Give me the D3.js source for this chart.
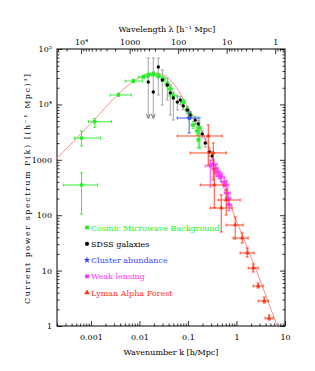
<!DOCTYPE html>
<html><head><meta charset="utf-8">
<script src="https://cdn.jsdelivr.net/npm/d3@7"></script>
<style>
body{margin:0;background:#fff;}
svg{display:block;font-family:"DejaVu Serif",serif;}
</style></head><body>
<svg id="c" width="315" height="371"></svg>
<script>
// ---------- data ----------
const xTickValues = [0.001, 0.01, 0.1, 1, 10];
const xTickLabels = ["0.001", "0.01", "0.1", "1", "10"];
const yTickValues = [1, 10, 100, 1000, 1e4, 1e5];
const yTickLabels = ["1", "10", "100", "1000", "10\u2074", "10\u2075"];
const lamTickValues = [1e4, 1000, 100, 10, 1];
const lamTickLabels = ["10\u2074", "1000", "100", "10", "1"];

// theory curve
const curveK = [0.0002, 0.000977, 0.00405, 0.00822, 0.0132, 0.0212, 0.0341, 0.0548, 0.0968, 0.179, 0.288, 0.462, 0.743, 1.19, 2.54, 6.88];
const curveP = [1070, 4430, 16700, 27600, 33900, 36900, 32600, 21500, 9360, 3750, 1500, 469, 153, 54.1, 10.3, 1.0];

// Cosmic Microwave Background
const cmbK   = [0.00064, 0.00064, 0.0012, 0.0037, 0.0075, 0.012, 0.0152, 0.0193, 0.0245, 0.031, 0.0375, 0.0432, 0.0499, 0.080, 0.0968, 0.111, 0.128, 0.155, 0.175, 0.163];
const cmbP   = [351, 2475, 4870, 14800, 26400, 31200, 33900, 35400, 32600, 28700, 23300, 19000, 14200, 11000, 7920, 6170, 4250, 3310, 3750, 2300];
const cmbKLo = [0.00027, 0.00046, 0.00089, 0.0025, 0.0051, 0.0095, 0.013, 0.017, 0.022, 0.028, 0.034, 0.039, 0.038, 0.072, 0.088, 0.10, 0.117, 0.142, 0.165, 0.155];
const cmbKHi = [0.00136, 0.00157, 0.00264, 0.0068, 0.0115, 0.015, 0.018, 0.022, 0.027, 0.034, 0.041, 0.048, 0.060, 0.088, 0.106, 0.122, 0.14, 0.168, 0.186, 0.172];
const cmbPLo = [105, 1780, 3860, 14000, 24500, 29000, 31500, 32500, 30000, 26000, 21000, 17000, 12500, 9800, 7000, 5400, 3700, 2800, 1620, 1640];
const cmbPHi = [578, 3300, 5520, 16000, 28400, 33500, 36500, 38500, 35500, 31500, 26000, 21500, 16000, 12400, 9000, 7000, 4900, 3900, 5860, 3000];

// SDSS galaxies
const sdssK   = [0.0152, 0.0193, 0.0245, 0.0296, 0.0375, 0.0432, 0.0499, 0.0603, 0.0695, 0.080, 0.0968, 0.111, 0.141, 0.163, 0.197, 0.227, 0.274, 0.316];
const sdssP   = [25400, 16700, 47300, 27600, 22400, 16100, 13100, 11000, 12000, 9360, 7920, 6440, 5230, 4430, 2920, 2010, 1380, 1170];
const sdssPLo = [5680, 5680, 14800, 9760, 12000, 6440, 5230, 7920, 10000, 8000, 6800, 5600, 4500, 3800, 2500, 1700, 1150, 980];
const sdssPHi = [68800, 68800, 68800, 41900, 30000, 22400, 16700, 14200, 14000, 11000, 9200, 7400, 6100, 5100, 3400, 2400, 1650, 1400];
const sdssUpperLimit = [true, true, false, false, false, false, false, false, false, false, false, false, false, false, false, false, false, false];

// Cluster abundance
const clusterK = [0.106], clusterKLo = [0.060], clusterKHi = [0.163];
const clusterP = [5680], clusterPLo = [3050], clusterPHi = [7290];

// Weak lensing
const wlK   = [0.288, 0.332, 0.365, 0.401, 0.441, 0.485, 0.558, 0.614, 0.644, 0.675, 0.708];
const wlKLo = [0.227, 0.288, 0.315, 0.345, 0.38, 0.42, 0.48, 0.53, 0.56, 0.59, 0.62];
const wlKHi = [0.365, 0.401, 0.42, 0.46, 0.51, 0.56, 0.64, 0.70, 0.74, 0.77, 0.80];
const wlP   = [773, 839, 682, 603, 532, 490, 397, 351, 252, 204, 153];
const wlPLo = [323, 700, 570, 500, 450, 410, 330, 290, 200, 160, 120];
const wlPHi = [991, 1000, 800, 720, 630, 580, 470, 420, 310, 250, 190];

// Lyman Alpha Forest
const lyaK   = [0.262, 0.332, 0.348, 0.614, 0.485, 0.940, 1.31, 1.66, 2.21, 2.80, 3.72, 4.71];
const lyaKLo = [0.0603, 0.111, 0.179, 0.420, 0.288, 0.614, 0.855, 1.19, 1.74, 2.21, 2.80, 3.90];
const lyaKHi = [0.508, 0.614, 0.558, 1.19, 0.817, 1.37, 1.74, 2.31, 2.80, 3.54, 4.49, 5.69];
const lyaP   = [2690, 1330, 351, 188, 135, 66.5, 38.7, 20.8, 11.1, 5.27, 2.83, 1.39];
const lyaPLo = [806, 432, 135, 101, 49.7, 37.2, 31.5, 17.6, 9.44, 4.85, 2.60, 1.28];
const lyaPHi = [4250, 2010, 711, 285, 232, 92.8, 47.7, 25.6, 13.2, 5.97, 3.34, 1.58];

const legendLabels = ["Cosmic Microwave Background", "SDSS galaxies", "Cluster abundance", "Weak lensing", "Lyman Alpha Forest"];
const legendColors = ["#22ee22", "#000000", "#3344ff", "#ff33ff", "#ff3311"];

// ---------- drawing ----------
const svg = d3.select("#c");
const L = 57, R = 285, T = 49, B = 326;
const x = d3.scaleLog().domain([0.0002, 10]).range([L, R]);
const y = d3.scaleLog().domain([1, 1e5]).range([B, T]);
const lam = d3.scaleLog().domain([2 * Math.PI / 0.0002, 2 * Math.PI / 10]).range([L, R]);

function minors(lo, hi) {
  const out = [];
  for (let e = -5; e <= 5; e++) for (let d = 2; d <= 9; d++) {
    const v = d * Math.pow(10, e);
    if (v >= lo && v <= hi) out.push(v);
  }
  return out;
}
function styleAxis(g) {
  g.select(".domain").remove();
  g.selectAll("line").attr("stroke", "#000").attr("stroke-width", 0.8);
  g.selectAll("text").attr("font-family", "DejaVu Serif").attr("font-size", 8).attr("fill", "#000");
}
// bottom
svg.append("g").attr("transform", `translate(0,${B})`)
  .call(d3.axisBottom(x).tickValues(xTickValues).tickFormat((d, i) => xTickLabels[i]).tickSize(-5).tickSizeOuter(0).tickPadding(8)).call(styleAxis);
svg.append("g").attr("transform", `translate(0,${B})`)
  .call(d3.axisBottom(x).tickValues(minors(0.0002, 10)).tickFormat("").tickSize(-2.5).tickSizeOuter(0)).call(styleAxis);
// top
svg.append("g").attr("transform", `translate(0,${T})`)
  .call(d3.axisTop(lam).tickValues(lamTickValues).tickFormat((d, i) => lamTickLabels[i]).tickSize(-5).tickSizeOuter(0).tickPadding(4)).call(styleAxis);
svg.append("g").attr("transform", `translate(0,${T})`)
  .call(d3.axisTop(lam).tickValues(minors(0.63, 31400)).tickFormat("").tickSize(-2.5).tickSizeOuter(0)).call(styleAxis);
// left
svg.append("g").attr("transform", `translate(${L},0)`)
  .call(d3.axisLeft(y).tickValues(yTickValues).tickFormat((d, i) => yTickLabels[i]).tickSize(-5).tickSizeOuter(0).tickPadding(5)).call(styleAxis);
svg.append("g").attr("transform", `translate(${L},0)`)
  .call(d3.axisLeft(y).tickValues(minors(1, 1e5)).tickFormat("").tickSize(-2.5).tickSizeOuter(0)).call(styleAxis);
// right
svg.append("g").attr("transform", `translate(${R},0)`)
  .call(d3.axisRight(y).tickValues(yTickValues).tickFormat("").tickSize(-5).tickSizeOuter(0)).call(styleAxis);
svg.append("g").attr("transform", `translate(${R},0)`)
  .call(d3.axisRight(y).tickValues(minors(1, 1e5)).tickFormat("").tickSize(-2.5).tickSizeOuter(0)).call(styleAxis);

// frame
svg.append("rect").attr("x", L).attr("y", T).attr("width", R - L).attr("height", B - T)
  .attr("fill", "none").attr("stroke", "#000").attr("stroke-width", 1);

// titles
svg.append("text").attr("x", 167).attr("y", 32).attr("text-anchor", "middle")
  .attr("font-size", 8).text("Wavelength \u03bb [h\u207b\u00b9 Mpc]");
svg.append("text").attr("x", 171).attr("y", 355).attr("text-anchor", "middle")
  .attr("font-size", 8).text("Wavenumber k [h/Mpc]");
svg.append("text").attr("transform", "translate(30,189) rotate(-90)").attr("text-anchor", "middle")
  .attr("font-size", 8).attr("textLength", 230).attr("lengthAdjust", "spacing")
  .text("Current power spectrum P(k) [(h\u207b\u00b9 Mpc)\u00b3]");

// theory curve
const plot = svg.append("g");
plot.append("path")
  .datum(curveK.map((k, i) => [k, curveP[i]]))
  .attr("fill", "none").attr("stroke", "#ff8f8f").attr("stroke-width", 1)
  .attr("d", d3.line().x(d => x(d[0])).y(d => y(d[1])).curve(d3.curveMonotoneX));

function errorBars(K, P, KLo, KHi, PLo, PHi, color, cap) {
  const g = plot.append("g").attr("stroke", color).attr("stroke-width", 0.9).attr("fill", "none");
  K.forEach((k, i) => {
    const cx = x(k), cy = y(P[i]);
    if (PLo && PHi) {
      g.append("line").attr("x1", cx).attr("x2", cx).attr("y1", y(PLo[i])).attr("y2", y(PHi[i]));
      if (cap) {
        g.append("line").attr("x1", cx - cap).attr("x2", cx + cap).attr("y1", y(PLo[i])).attr("y2", y(PLo[i]));
        g.append("line").attr("x1", cx - cap).attr("x2", cx + cap).attr("y1", y(PHi[i])).attr("y2", y(PHi[i]));
      }
    }
    if (KLo && KHi) {
      g.append("line").attr("y1", cy).attr("y2", cy).attr("x1", x(KLo[i])).attr("x2", x(KHi[i]));
      if (cap) {
        g.append("line").attr("y1", cy - cap).attr("y2", cy + cap).attr("x1", x(KLo[i])).attr("x2", x(KLo[i]));
        g.append("line").attr("y1", cy - cap).attr("y2", cy + cap).attr("x1", x(KHi[i])).attr("x2", x(KHi[i]));
      }
    }
  });
}
function markers(K, P, type, size, color) {
  plot.append("g").selectAll("path").data(K).join("path")
    .attr("transform", (k, i) => `translate(${x(k)},${y(P[i])})`)
    .attr("d", d3.symbol().type(type).size(size))
    .attr("fill", color);
}

// SDSS (gray bars, black dots)
errorBars(sdssK, sdssP, null, null, sdssPLo, sdssPHi, "#9a9a9a", 1.5);
sdssK.forEach((k, i) => {
  if (sdssUpperLimit[i]) {
    const cx = x(k), cy = y(sdssPLo[i]);
    plot.append("path").attr("d", `M${cx - 2},${cy - 4}L${cx},${cy}L${cx + 2},${cy - 4}`)
      .attr("fill", "none").attr("stroke", "#777").attr("stroke-width", 1);
  }
});
// CMB
errorBars(cmbK, cmbP, cmbKLo, cmbKHi, cmbPLo, cmbPHi, legendColors[0], 1.5);
markers(cmbK, cmbP, d3.symbolSquare, 11, legendColors[0]);
markers(sdssK, sdssP, d3.symbolCircle, 9, "#000");
// Cluster
errorBars(clusterK, clusterP, clusterKLo, clusterKHi, clusterPLo, clusterPHi, legendColors[2], 1.5);
markers(clusterK, clusterP, d3.symbolStar, 11, legendColors[2]);
// Weak lensing
errorBars(wlK, wlP, wlKLo, wlKHi, wlPLo, wlPHi, legendColors[3], 1.5);
markers(wlK, wlP, d3.symbolSquare, 9, legendColors[3]);
// Lyman alpha
errorBars(lyaK, lyaP, lyaKLo, lyaKHi, lyaPLo, lyaPHi, legendColors[4], 1.5);
markers(lyaK, lyaP, d3.symbolTriangle, 9, legendColors[4]);

// legend
const legendSymbols = [d3.symbolSquare, d3.symbolCircle, d3.symbolStar, d3.symbolSquare, d3.symbolTriangle];
const lg = svg.append("g");
legendLabels.forEach((lab, i) => {
  const cy = 227.5 + i * 16.3;
  lg.append("path").attr("transform", `translate(87,${cy})`)
    .attr("d", d3.symbol().type(legendSymbols[i]).size(14)).attr("fill", legendColors[i]);
  lg.append("text").attr("x", 91).attr("y", cy + 3).attr("font-size", 8)
    .attr("fill", legendColors[i]).text(lab);
});
</script>
</body></html>
